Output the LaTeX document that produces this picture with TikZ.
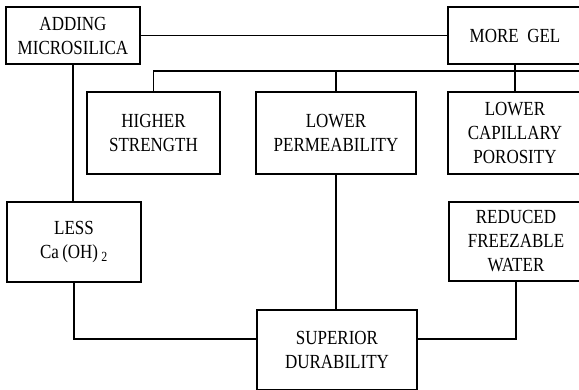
\documentclass[tikz,border=0pt]{standalone}
\usepackage{fontspec}
\setmainfont{Liberation Serif}[FakeStretch=0.85]
\begin{document}
\begin{tikzpicture}[x=1pt,y=-1pt,
  box/.style={draw,line width=1.3pt,align=center,inner sep=0pt,
    font=\fontsize{20}{24}\selectfont},
  conn/.style={line width=1.3pt}]
\useasboundingbox (0,0) rectangle (579,389);
\clip (0,0) rectangle (579,389);
\node[box,minimum width=134pt,minimum height=57pt] (adding) at (73,35.5) {ADDING\\MICROSILICA};
\node[box,minimum width=134pt,minimum height=57pt] (moregel) at (515,35.5) {MORE\ \ GEL};
\node[box,minimum width=133pt,minimum height=82pt] (higher) at (153.5,133) {HIGHER\\STRENGTH};
\node[box,minimum width=160pt,minimum height=82pt] (perm) at (336,133) {LOWER\\PERMEABILITY};
\node[box,minimum width=134pt,minimum height=82pt] (capillary) at (515,133) {LOWER\\CAPILLARY\\POROSITY};
\node[box,minimum width=134pt,minimum height=80pt] (less) at (74,242) {LESS\\Ca\,(OH)\,\textsubscript{2}};
\node[box,minimum width=134pt,minimum height=79pt] (reduced) at (516,241.5) {REDUCED\\FREEZABLE\\WATER};
\node[box,minimum width=160pt,minimum height=80pt] (superior) at (337,350) {SUPERIOR\\DURABILITY};
\coordinate (busR) at (590,71);
\draw[conn] (adding) -- (moregel);
\draw[conn] (adding.south) -- (adding.south |- less.north);
\draw[conn] (moregel.south) -- (moregel.south |- capillary.north);
\draw[conn] (higher.north) |- (busR);
\draw[conn] (perm.north) -- (perm.north |- busR);
\draw[conn] (perm.south) -- (perm.south |- superior.north);
\draw[conn] (less.south) |- ([yshift=11pt]superior.west);
\draw[conn] (reduced.south) |- ([yshift=11pt]superior.east);
\end{tikzpicture}
\end{document}
